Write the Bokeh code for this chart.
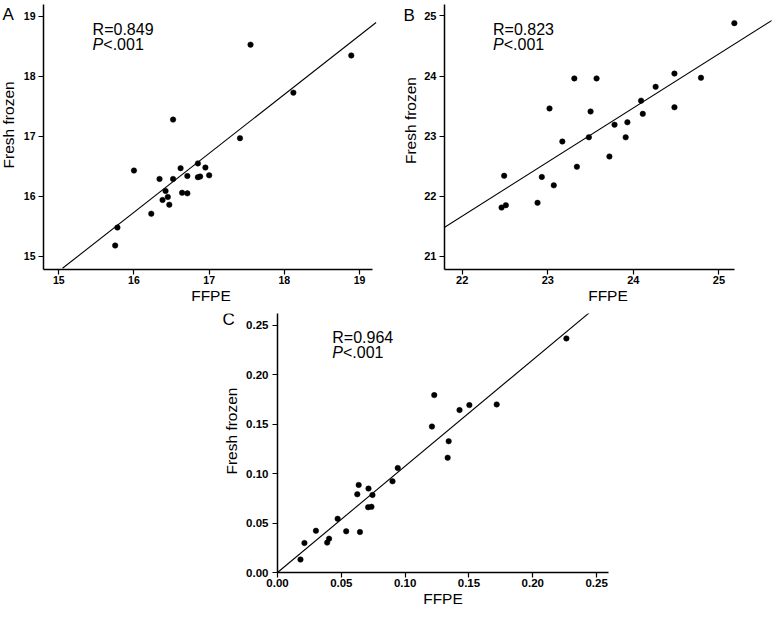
import math
from bokeh.plotting import figure
from bokeh.models import Label, FixedTicker, Range1d, Spacer, NumeralTickFormatter, BasicTickFormatter
from bokeh.core.properties import value
from bokeh.layouts import column, row
from bokeh.embed import file_html
from bokeh.resources import INLINE

FONT = "Liberation Sans"

# ---------------- Panel A ----------------
a_ffpe = [17.55, 18.89, 18.12, 17.41, 16.52, 16.00, 16.62, 16.85, 16.95, 16.34, 16.52, 16.71,
          16.85, 16.88, 17.00, 16.42, 16.45, 16.38, 16.47, 16.64, 16.71, 16.23, 15.78, 15.75]
a_frozen = [18.53, 18.35, 17.73, 16.97, 17.28, 16.43, 16.47, 16.55, 16.48, 16.29, 16.29, 16.34,
            16.32, 16.33, 16.35, 16.09, 15.99, 15.94, 15.86, 16.06, 16.05, 15.71, 15.48, 15.18]
a_fit_x = [15.05, 19.22]
a_fit_slope = 0.983
a_fit_intercept = 0.006
a_xticks = [15, 16, 17, 18, 19]
a_yticks = [15, 16, 17, 18, 19]
a_r_text = "R=0.849"

# ---------------- Panel B ----------------
b_ffpe = [25.18, 24.48, 24.79, 24.26, 24.09, 24.11, 24.48, 23.31, 23.57, 23.02, 23.50, 23.78,
          23.93, 23.91, 23.48, 23.17, 23.72, 23.34, 22.93, 23.07, 22.49, 22.88, 22.51, 22.46]
b_frozen = [24.88, 24.04, 23.97, 23.82, 23.59, 23.37, 23.48, 23.96, 23.96, 23.46, 23.41, 23.19,
            23.23, 22.98, 22.98, 22.91, 22.66, 22.49, 22.32, 22.18, 22.34, 21.89, 21.85, 21.81]
b_fit_x = [21.79, 25.71]
b_fit_slope = 0.90
b_fit_intercept = 1.869
b_xticks = [22, 23, 24, 25]
b_yticks = [21, 22, 23, 24, 25]
b_r_text = "R=0.823"

# ---------------- Panel C ----------------
c_ffpe = [0.2263, 0.1228, 0.1426, 0.1503, 0.1717, 0.1210, 0.1341, 0.1333, 0.0942, 0.0901, 0.0713, 0.0636,
          0.0625, 0.0744, 0.0710, 0.0736, 0.0471, 0.0538, 0.0646, 0.0301, 0.0404, 0.0389, 0.0211, 0.0180]
c_frozen = [0.2366, 0.1793, 0.1642, 0.1692, 0.1699, 0.1475, 0.1327, 0.1160, 0.1056, 0.0922, 0.0848, 0.0885,
            0.0791, 0.0784, 0.0660, 0.0664, 0.0543, 0.0416, 0.0409, 0.0422, 0.0342, 0.0302, 0.0298, 0.0131]
c_fit_x = [0.0, 0.245]
c_fit_slope = 1.075
c_fit_intercept = 0.0
c_xticks = [0.0, 0.05, 0.10, 0.15, 0.20, 0.25]
c_yticks = [0.0, 0.05, 0.10, 0.15, 0.20, 0.25]
c_r_text = "R=0.964"

p_text = "<.001"
x_title = "FFPE"
y_title = "Fresh frozen"


def make_panel(xs, ys, fit_x, slope, intercept, xr, yr, x_bounds, xticks, yticks,
               width, height, borders, tick_size, fmt, y_tick_standoff,
               r_text, r_x, r_y, p_y):
    p = figure(width=width, height=height, x_range=Range1d(*xr), y_range=Range1d(*yr),
               output_backend="svg", toolbar_location=None,
               min_border_left=borders[0], min_border_right=borders[1],
               min_border_top=borders[2], min_border_bottom=borders[3])
    p.grid.visible = False
    p.outline_line_color = None
    p.background_fill_color = "white"
    p.border_fill_color = "white"

    p.xaxis.ticker = FixedTicker(ticks=xticks, minor_ticks=[])
    p.yaxis.ticker = FixedTicker(ticks=yticks, minor_ticks=[])
    p.xaxis.bounds = x_bounds
    p.xaxis.formatter = fmt()
    p.yaxis.formatter = fmt()
    for ax in (p.xaxis[0], p.yaxis[0]):
        ax.axis_line_color = "black"
        ax.axis_line_width = 1.5
        ax.major_tick_line_color = "black"
        ax.major_tick_line_width = 1.2
        ax.major_tick_in = 0
        ax.major_tick_out = 5
        ax.minor_tick_in = 0
        ax.minor_tick_out = 0
        ax.major_label_text_font = FONT
        ax.major_label_text_font_style = "bold"
        ax.major_label_text_font_size = tick_size
        ax.major_label_text_color = "black"
        ax.axis_label_text_font = FONT
        ax.axis_label_text_font_style = "normal"
        ax.axis_label_text_font_size = "15.5px"
        ax.axis_label_text_color = "black"
    p.xaxis.axis_label = x_title
    p.xaxis.major_label_standoff = 1
    p.xaxis.axis_label_standoff = 0
    p.yaxis.major_label_standoff = y_tick_standoff

    fit_y = [slope * v + intercept for v in fit_x]
    p.line(fit_x, fit_y, line_color="black", line_width=1.1)
    p.scatter(xs, ys, size=5.5, fill_color="black", line_color="black", line_width=0.5)

    common = dict(text_font=FONT, text_font_size="16px", text_color="black",
                  text_baseline="alphabetic", text_align="left")
    p.add_layout(Label(x=r_x, y=r_y, text=r_text, **common))
    p.add_layout(Label(x=r_x, y=p_y, text="P", text_font_style="italic", **common))
    p.add_layout(Label(x=r_x, y=p_y, text=p_text, x_offset=10.7, **common))
    return p


def make_side(width, height, letter, letter_xy, ylab_xy):
    """Narrow strip holding the panel letter and the rotated y-axis title."""
    s = figure(width=width, height=height, x_range=Range1d(0, width), y_range=Range1d(0, height),
               output_backend="svg", toolbar_location=None, x_axis_type=None, y_axis_type=None,
               min_border=0, min_border_left=0, min_border_right=0, min_border_top=0, min_border_bottom=0)
    s.grid.visible = False
    s.outline_line_color = None
    s.background_fill_color = "white"
    s.border_fill_color = "white"
    s.text(x=[letter_xy[0]], y=[letter_xy[1]], text=[letter], text_font=value(FONT),
           text_font_size=value("17px"), text_color="black", text_baseline="middle", text_align="left")
    s.text(x=[ylab_xy[0]], y=[ylab_xy[1]], text=[y_title], text_font=value(FONT),
           text_font_size=value("15.5px"), text_color="black", text_baseline="middle",
           text_align="center", angle=math.pi / 2)
    return s


int_fmt = lambda: BasicTickFormatter()
dec_fmt = lambda: NumeralTickFormatter(format="0.00")

TOP_H = 306
BOT_H = 303

sA = make_side(20, TOP_H, "A", (2, 295), (7.5, 167))
pA = make_panel(a_ffpe, a_frozen, a_fit_x, a_fit_slope, a_fit_intercept,
                (14.797, 19.252), (14.78, 19.2), (14.797, 19.17), a_xticks, a_yticks,
                370, TOP_H, (23, 12, 4, 37), "10.5px", int_fmt, 3,
                a_r_text, 15.45, 18.78, 18.53)

sB = make_side(30, TOP_H, "B", (13, 293.5), (20, 172))
pB = make_panel(b_ffpe, b_frozen, b_fit_x, b_fit_slope, b_fit_intercept,
                (21.793, 25.614), (20.78, 25.19), (21.793, 25.18), b_xticks, b_yticks,
                352, TOP_H, (24, 1, 4, 37), "11px", int_fmt, 3,
                b_r_text, 22.36, 24.78, 24.52)

sC = make_side(28, BOT_H, "C", (7, 296), (16, 165.5))
pC = make_panel(c_ffpe, c_frozen, c_fit_x, c_fit_slope, c_fit_intercept,
                (0.0, 0.2593), (0.0, 0.2618), (0.0, 0.2593), c_xticks, c_yticks,
                369, BOT_H, (31, 4, 7, 36), "11.5px", dec_fmt, 4,
                c_r_text, 0.0429, 0.2376, 0.2228)

layout = column(row(sA, pA, sB, pB, spacing=0),
                row(Spacer(width=215, height=BOT_H), sC, pC, spacing=0), spacing=0)

open("out.html", "w").write(file_html(layout, INLINE, title="FFPE vs Fresh frozen"))
